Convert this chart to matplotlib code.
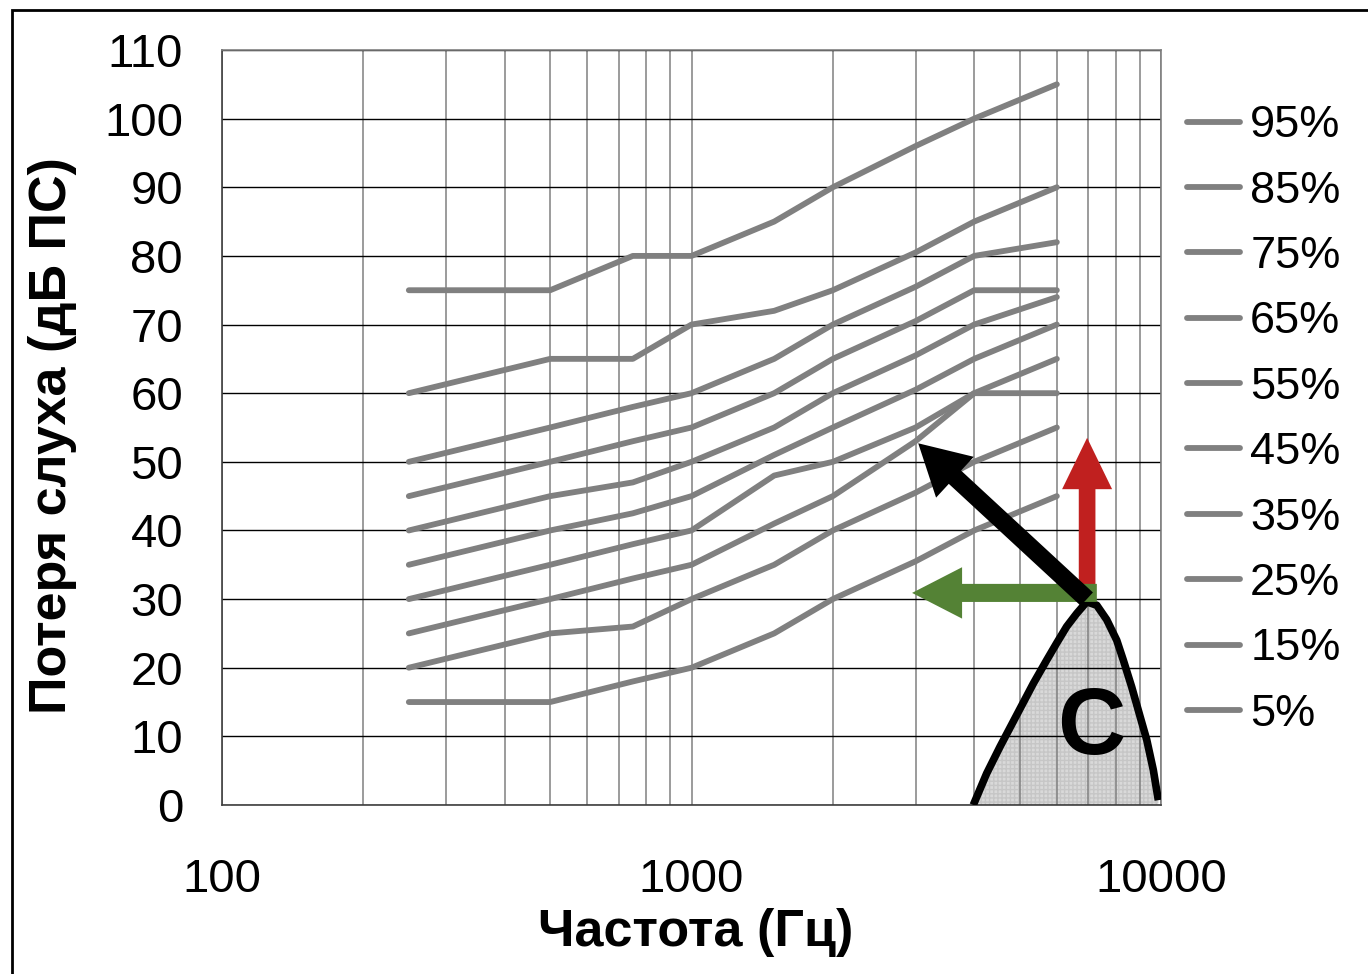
import numpy as np
import matplotlib
matplotlib.use("Agg")
import matplotlib.pyplot as plt
from matplotlib.patches import FancyArrowPatch, Rectangle

plt.rcParams["font.family"] = ["Liberation Sans", "DejaVu Sans"]

# audiogram percentiles
freqs = [250, 500, 750, 1000, 1500, 2000, 3000, 4000, 6000]
p95 = [75, 75, 80, 80, 85, 90, 96, 100, 105]
p85 = [60, 65, 65, 70, 72, 75, 80.5, 85, 90]
p75 = [50, 55, 58, 60, 65, 70, 75.5, 80, 82]
p65 = [45, 50, 53, 55, 60, 65, 70.5, 75, 75]
p55 = [40, 45, 47, 50, 55, 60, 65.5, 70, 74]
p45 = [35, 40, 42.5, 45, 51, 55, 60.5, 65, 70]
p35 = [30, 35, 38, 40, 48, 50, 55, 60, 60]
p25 = [25, 30, 33, 35, 41, 45, 53, 60, 65]
p15 = [20, 25, 26, 30, 35, 40, 45.5, 50, 55]
p5 = [15, 15, 18, 20, 25, 30, 35.5, 40, 45]
series = [p95, p85, p75, p65, p55, p45, p35, p25, p15, p5]
labels = ["95%", "85%", "75%", "65%", "55%", "45%", "35%", "25%", "15%", "5%"]

# shaded region "C" (outline)
c_freq = [3983, 4253, 4541, 4927, 5346, 5708, 5997, 6297, 6614, 6948,
          7298, 7662, 8049, 8313, 8661, 9024, 9324, 9630, 9870]
c_db = [0, 4.6, 8.5, 13.1, 17.7, 21.1, 23.6, 26.0, 27.9, 29.6,
        29.1, 27.0, 24.0, 21.1, 17.2, 12.9, 9.5, 5.1, 0.7]

# arrows: (start, end) in (Hz, dB)
black_arrow = ((6950, 30), (3040, 52.7))
red_arrow = ((6960, 31), (6960, 53.5))
green_arrow = ((7300, 30.9), (2950, 30.9))


def main():
    fig = plt.figure(figsize=(13.68, 9.74), dpi=100)
    ax = fig.add_axes([222 / 1368, 1 - 805 / 974, 939 / 1368, 755 / 974])

    ax.fill_between(c_freq, 0, c_db, facecolor="#d9d9d9", edgecolor="#c6c6c6",
                    hatch="++++", linewidth=0, zorder=1)
    ax.plot(c_freq, c_db, color="black", lw=5.5, solid_capstyle="butt",
            solid_joinstyle="round", zorder=4)

    handles = []
    for vals, lab in zip(series, labels):
        h, = ax.plot(freqs, vals, color="#808080", lw=4.2,
                     solid_capstyle="round", solid_joinstyle="round", label=lab, zorder=2)
        handles.append(h)

    def arrow(pts, color, tail, hw, hl, z):
        p = FancyArrowPatch(pts[0], pts[1],
                            arrowstyle=f"simple,head_length={hl},head_width={hw},tail_width={tail}",
                            mutation_scale=1, color=color, shrinkA=0, shrinkB=0,
                            lw=0, zorder=z)
        ax.add_patch(p)

    arrow(red_arrow, "#c0201f", 12, 36, 37, 5)
    arrow(green_arrow, "#548235", 13, 37, 36, 5)
    arrow(black_arrow, "black", 13, 40, 36, 6)

    ax.text(7118, 11, "C", fontsize=68, fontweight="bold", ha="center",
            va="center", zorder=7)

    ax.set_xscale("log")
    ax.set_xlim(100, 10000)
    ax.set_ylim(0, 110)
    ax.set_yticks(np.arange(0, 111, 10))
    ax.set_xticks([100, 1000, 10000])
    ax.set_xticklabels(["100", "1000", "10000"])
    ax.xaxis.set_minor_formatter(matplotlib.ticker.NullFormatter())
    ax.tick_params(axis="both", which="both", length=0, labelsize=34)
    ax.tick_params(axis="y", pad=28)
    ax.tick_params(axis="x", pad=38)

    ax.grid(True, axis="y", color="black", lw=1.0)
    ax.grid(True, axis="x", which="both", color="#808080", lw=1.1)

    for s in ["top", "right"]:
        ax.spines[s].set_color("#808080")
        ax.spines[s].set_linewidth(1.2)
    for s in ["left", "bottom"]:
        ax.spines[s].set_color("#404040")
        ax.spines[s].set_linewidth(1.2)

    ax.set_xlabel("Частота (Гц)", fontsize=37.5, fontweight="bold", va="center")
    ax.xaxis.set_label_coords(0.504, -0.1695)
    ax.set_ylabel("Потеря слуха (дБ ПС)", fontsize=37.5, fontweight="bold", va="center")
    ax.yaxis.set_label_coords(-0.181, 0.489)

    fig.legend(handles=handles, labels=labels, loc="center left",
               bbox_to_anchor=(1187 / 1368, 1 - 420 / 974), frameon=False,
               fontsize=32.5, handlelength=1.18, handletextpad=0.22,
               labelspacing=0.54, borderpad=0, borderaxespad=0)

    fig.add_artist(Rectangle((12 / 1368, -0.1), 2, 1 - 10 / 974 + 0.1,
                             transform=fig.transFigure, fill=False,
                             edgecolor="black", lw=2.0))

    fig.savefig("out.png", dpi=100)


if __name__ == "__main__":
    main()
